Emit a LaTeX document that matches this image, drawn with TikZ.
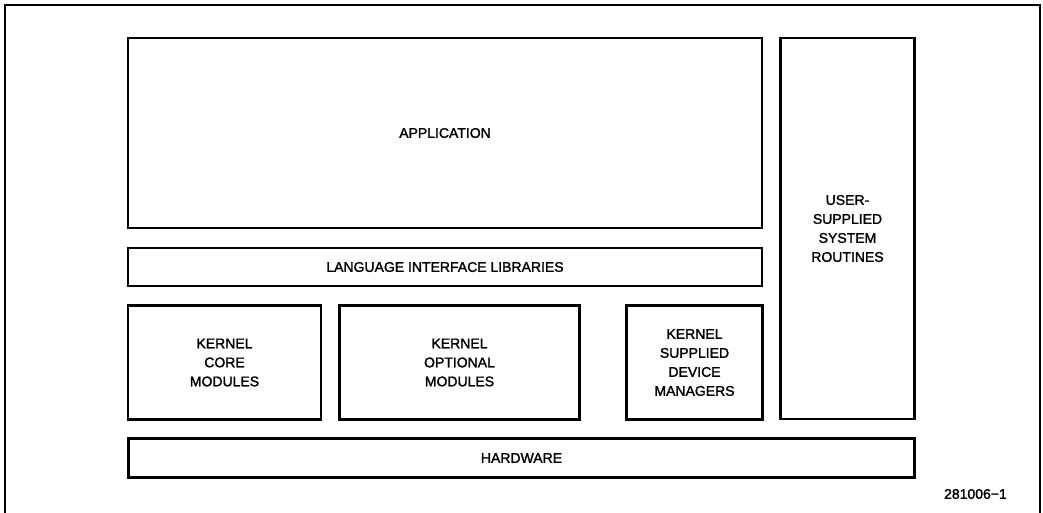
\documentclass[tikz,border=0pt]{standalone}
\usepackage{fontspec}
\newfontfamily\labelfont{Liberation Sans}[FakeBold=1.6]
\begin{document}
\begin{tikzpicture}[x=1pt,y=-1pt,
  layer/.style={draw=black, line width=2.4pt, inner sep=0pt, align=center,
    font=\labelfont\fontsize{14}{19}\selectfont},
  tag/.style={inner sep=0pt, font=\labelfont\fontsize{14}{19}\selectfont}]
\useasboundingbox (0,0) rectangle (1043,512);
% outer frame (open at the bottom)
\draw[line width=1.3pt] (5,530) -- (5,5) -- (1040,5) -- (1040,530);
\node[layer, minimum width=634pt, minimum height=190pt] (app) at (445,133) {APPLICATION};
\node[layer, minimum width=134pt, minimum height=381pt] (user) at (847.5,228.5) {USER-\\SUPPLIED\\SYSTEM\\ROUTINES};
\node[layer, minimum width=634pt, minimum height=38pt] (lang) at (445,267) {LANGUAGE INTERFACE LIBRARIES};
\node[layer, minimum width=193pt, minimum height=114pt] (core) at (224.5,362.5) {KERNEL\\CORE\\MODULES};
\node[layer, minimum width=240pt, minimum height=114pt] (opt) at (459.5,362.5) {KERNEL\\OPTIONAL\\MODULES};
\node[layer, minimum width=136pt, minimum height=114pt] (dev) at (694.5,362.5) {KERNEL\\SUPPLIED\\DEVICE\\MANAGERS};
\node[layer, minimum width=786pt, minimum height=39pt] (hw) at (521.5,458) {HARDWARE};
\node[tag, anchor=east] (fig) at (1007,494) {281006−1};
\end{tikzpicture}
\end{document}
